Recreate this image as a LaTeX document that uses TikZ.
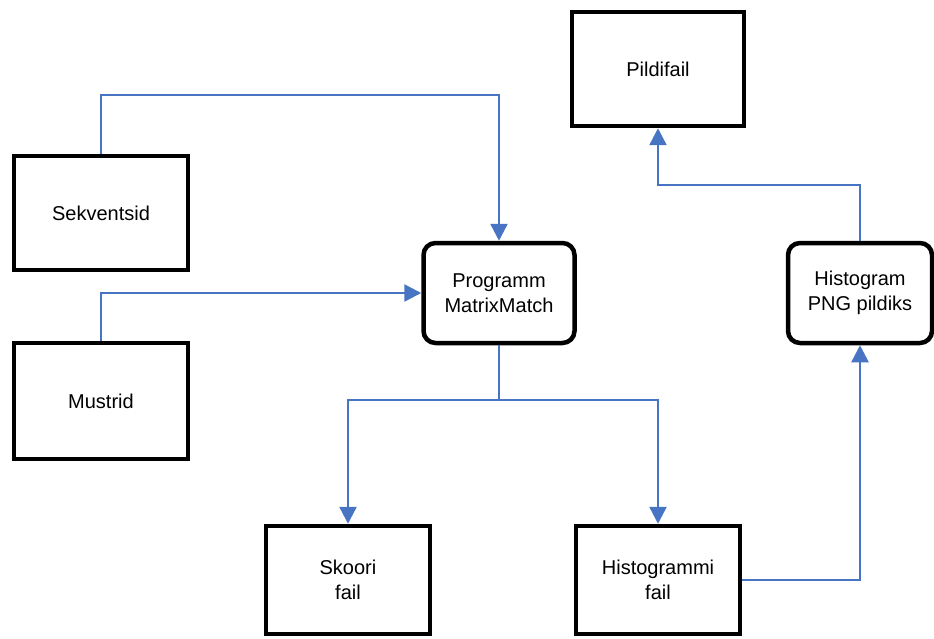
\documentclass[tikz,border=0pt]{standalone}
\usepackage{fontspec}
\setmainfont{Liberation Sans}
\usepackage{tikz}
\usetikzlibrary{arrows.meta}
\definecolor{flowblue}{RGB}{72,117,195}

\begin{document}
\begin{tikzpicture}[x=1pt,y=-1pt,
  box/.style={draw=black, line width=4.5pt, align=center, inner sep=0pt,
    font=\fontsize{20}{25}\selectfont},
  prog/.style={box, rounded corners=12pt},
  flow/.style={draw=flowblue, line width=2.5pt, -{Triangle[length=17pt,width=17pt]}}]

\useasboundingbox (0,0) rectangle (934,639);

% Sisendid
\node[box, minimum width=174pt, minimum height=114pt] (sekv) at (101,213) {Sekventsid};
\node[box, minimum width=174pt, minimum height=116pt] (must) at (101,401) {Mustrid};

% Programmid
\node[prog, minimum width=151pt, minimum height=100pt] (matrix) at (499,293) {Programm\\MatrixMatch};
\node[prog, minimum width=144pt, minimum height=100pt] (png) at (860,293) {Histogram\\PNG pildiks};

% Väljundid
\node[box, minimum width=172pt, minimum height=114pt] (pilt) at (658,69) {Pildifail};
\node[box, minimum width=164pt, minimum height=108pt] (skoor) at (348,580) {Skoori\\fail};
\node[box, minimum width=164pt, minimum height=108pt] (histf) at (658,580) {Histogrammi\\fail};

% Murdepunktid
\coordinate (ylal) at (499,95);
\coordinate (jaotus) at (499,400);
\coordinate (pildini) at (658,185);

% Nooled
\draw[flow] (sekv.north) |- (ylal) -- (matrix.north);
\draw[flow] (must.north) |- (matrix.west);
\draw[flow] (matrix.south) -- (jaotus) -| (skoor.north);
\draw[flow] (jaotus) -| (histf.north);
\draw[flow] (histf.east) -| (png.south);
\draw[flow] (png.north) |- (pildini) -- (pilt.south);

\end{tikzpicture}
\end{document}
